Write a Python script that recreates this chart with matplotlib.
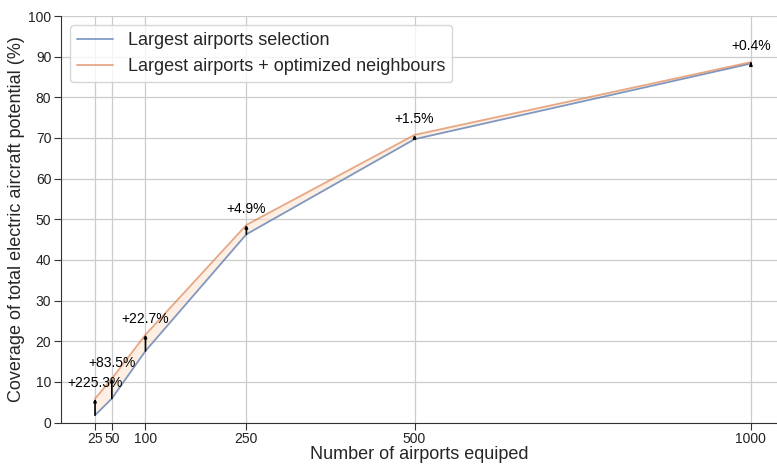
import numpy as np
import matplotlib.pyplot as plt
import seaborn as sns

# airports equipped vs coverage (%)
n_airports = [25, 50, 100, 250, 500, 1000]
largest = [1.8, 5.9, 17.6, 46.3, 69.7, 88.3]
optimized = [5.86, 10.8, 21.6, 48.6, 70.75, 88.65]
gain_labels = ["+225.3%", "+83.5%", "+22.7%", "+4.9%", "+1.5%", "+0.4%"]

sns.set_style("ticks")
plt.rcParams['font.family'] = ['Liberation Sans', 'DejaVu Sans']

fig = plt.figure(figsize=(7.77, 4.65), dpi=100)
ax = fig.add_axes([61 / 777, 42.5 / 465, 716 / 777, 406.5 / 465])

ax.plot(n_airports, largest, color="#4c72b0", alpha=0.7, lw=1.3, label="Largest airports selection")
ax.plot(n_airports, optimized, color="#dd8452", alpha=0.7, lw=1.3, label="Largest airports + optimized neighbours")
ax.fill_between(n_airports, largest, optimized, color="#fde3cc", alpha=0.55, lw=0)

for x, lo, hi, lab in zip(n_airports, largest, optimized, gain_labels):
    ax.annotate("", xy=(x, hi), xytext=(x, lo),
                arrowprops=dict(arrowstyle="-|>", color="black", lw=1.2,
                                mutation_scale=4, shrinkA=0, shrinkB=0))
    ax.text(x, hi + 2.2, lab, ha="center", va="bottom", fontsize=10, color="black")

ax.set_xlim(-25.6, 1038.8)
ax.set_ylim(0, 100)
ax.set_xticks(n_airports)
ax.set_yticks(np.arange(0, 101, 10))
ax.tick_params(labelsize=10, colors="#333333", labelcolor="#222222", length=5, pad=2)
ax.grid(True, color="#cccccc", lw=0.9)
ax.set_axisbelow(True)
sns.despine(ax=ax)
ax.spines['left'].set_color('#333333')
ax.spines['bottom'].set_color('#333333')

ax.set_xlabel("Number of airports equiped", fontsize=13, labelpad=0)
ax.set_ylabel("Coverage of total electric aircraft potential (%)", fontsize=13, labelpad=2)
ax.legend(loc="upper left", fontsize=13, frameon=True, borderaxespad=0,
          bbox_to_anchor=(0.0126, 0.978))

fig.savefig("out.png", dpi=100)
